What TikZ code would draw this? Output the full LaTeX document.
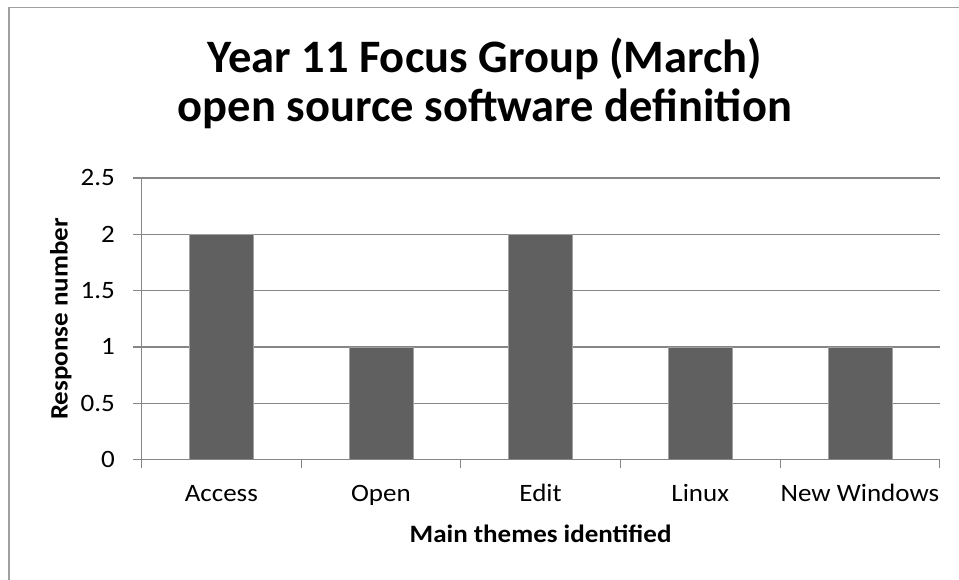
\documentclass[tikz,border=0pt]{standalone}
\usepackage{fontspec}
\setmainfont{Carlito}
\newfontfamily\labelfont{Carlito}[FakeStretch=1.08]
\definecolor{axisgray}{HTML}{868686}
\definecolor{framegray}{HTML}{A0A0A0}
\definecolor{barfill}{HTML}{606060}
\begin{document}
\begin{tikzpicture}[x=1pt,y=-1pt,
  gridline/.style={draw=axisgray,line width=1.3pt},
  tickmark/.style={draw=axisgray,line width=1.1pt},
  barbox/.style={fill=barfill,draw=framegray,line width=0.6pt},
  ticklabel/.style={inner sep=0pt,font=\labelfont\fontsize{25}{30}\selectfont},
  axistitle/.style={inner sep=0pt,font=\labelfont\fontsize{25}{30}\selectfont\bfseries},
  charttitle/.style={inner sep=0pt,font=\fontsize{46.5}{56}\selectfont\bfseries}]
  \useasboundingbox (0,0) rectangle (959,579);
  \clip (0,0) rectangle (959,579);
  % chart frame (continues past the right and bottom edges)
  \draw[framegray,line width=1.3pt] (9,7.3) rectangle (975,595);
  % plot geometry: x from 141.5 to 939.7, value 0 at 459.5, 1 unit = 112.6
  \def\xl{141.5}\def\xr{939.7}\def\yz{459.5}\def\un{112.6}\def\cw{159.64}
  % horizontal gridlines with their outside ticks
  \foreach \v in {0.5,1,1.5,2,2.5}{
    \draw[gridline] (133,\yz-\v*\un) -- (\xr,\yz-\v*\un);
  }
  % bars
  \foreach \i/\v in {0/2,1/1,2/2,3/1,4/1}{
    \path[barbox] (\xl+\i*\cw+0.5*\cw-32,\yz) rectangle (\xl+\i*\cw+0.5*\cw+32,\yz-\v*\un);
  }
  % axes
  \draw[tickmark] (\xl,178) -- (\xl,467.5);
  \draw[tickmark] (133,\yz) -- (\xr,\yz);
  \foreach \i in {1,...,5}{
    \draw[tickmark] (\xl+\i*\cw,\yz) -- (\xl+\i*\cw,467.5);
  }
  % y tick labels
  \node[ticklabel,anchor=base east] (y0)  at (115,\yz+7.8) {0};
  \node[ticklabel,anchor=base east] (y05) at (115,\yz-0.5*\un+7.8) {0.5};
  \node[ticklabel,anchor=base east] (y1)  at (115,\yz-1*\un+7.8) {1};
  \node[ticklabel,anchor=base east] (y15) at (115,\yz-1.5*\un+7.8) {1.5};
  \node[ticklabel,anchor=base east] (y2)  at (115,\yz-2*\un+7.8) {2};
  \node[ticklabel,anchor=base east] (y25) at (115,\yz-2.5*\un+7.8) {2.5};
  % category labels
  \node[ticklabel,anchor=base] (cAccess) at (\xl+0.5*\cw,501.7) {Access};
  \node[ticklabel,anchor=base] (cOpen)   at (\xl+1.5*\cw,501.7) {Open};
  \node[ticklabel,anchor=base] (cEdit)   at (\xl+2.5*\cw,501.7) {Edit};
  \node[ticklabel,anchor=base] (cLinux)  at (\xl+3.5*\cw,501.7) {Linux};
  \node[ticklabel,anchor=base] (cNewWin) at (\xl+4.5*\cw,501.7) {New Windows};
  % axis titles
  \node[axistitle,anchor=base] (xtitle) at (540.6,542.7) {Main themes identified};
  \node[axistitle,anchor=base,rotate=90] (ytitle) at (67.5,319) {Response number};
  % chart title
  \node[charttitle,anchor=base] (title1) at (485,72.7) {Year 11 Focus Group (March)};
  \node[charttitle,anchor=base] (title2) at (485,121.7) {open source software definition};
\end{tikzpicture}
\end{document}
